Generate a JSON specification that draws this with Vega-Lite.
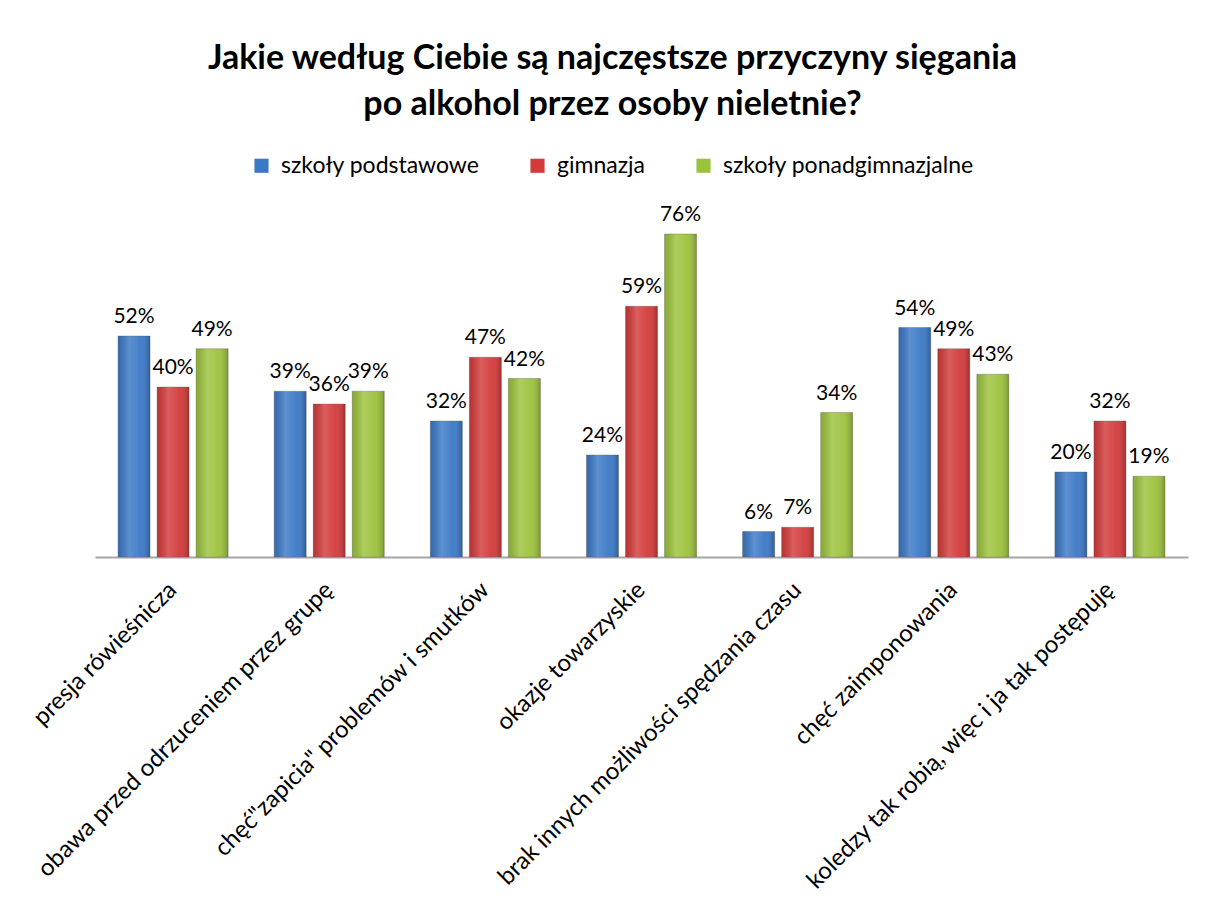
{
  "$schema": "https://vega.github.io/schema/vega-lite/v6.json",
  "width": 1093,
  "height": 340,
  "autosize": "none",
  "padding": {"left": 95, "top": 217, "right": 17, "bottom": 362},
  "background": "white",
  "config": {"view": {"stroke": null}},
  "title": {
    "text": ["Jakie według Ciebie są najczęstsze przyczyny sięgania", "po alkohol przez osoby nieletnie?"],
    "font": "Lato",
    "fontSize": 34,
    "fontWeight": "bold",
    "color": "#000000",
    "lineHeight": 46,
    "anchor": "middle",
    "dx": -29,
    "offset": 32
  },
  "data": {
    "values": [
      {"kategoria": "presja rówieśnicza", "szkola": "szkoły podstawowe", "wartosc": 0.52},
      {"kategoria": "presja rówieśnicza", "szkola": "gimnazja", "wartosc": 0.40},
      {"kategoria": "presja rówieśnicza", "szkola": "szkoły ponadgimnazjalne", "wartosc": 0.49},
      {"kategoria": "obawa przed odrzuceniem przez grupę", "szkola": "szkoły podstawowe", "wartosc": 0.39},
      {"kategoria": "obawa przed odrzuceniem przez grupę", "szkola": "gimnazja", "wartosc": 0.36},
      {"kategoria": "obawa przed odrzuceniem przez grupę", "szkola": "szkoły ponadgimnazjalne", "wartosc": 0.39},
      {"kategoria": "chęć\"zapicia\"  problemów i smutków", "szkola": "szkoły podstawowe", "wartosc": 0.32},
      {"kategoria": "chęć\"zapicia\"  problemów i smutków", "szkola": "gimnazja", "wartosc": 0.47},
      {"kategoria": "chęć\"zapicia\"  problemów i smutków", "szkola": "szkoły ponadgimnazjalne", "wartosc": 0.42},
      {"kategoria": "okazje towarzyskie", "szkola": "szkoły podstawowe", "wartosc": 0.24},
      {"kategoria": "okazje towarzyskie", "szkola": "gimnazja", "wartosc": 0.59},
      {"kategoria": "okazje towarzyskie", "szkola": "szkoły ponadgimnazjalne", "wartosc": 0.76},
      {"kategoria": "brak innych możliwości spędzania czasu", "szkola": "szkoły podstawowe", "wartosc": 0.06},
      {"kategoria": "brak innych możliwości spędzania czasu", "szkola": "gimnazja", "wartosc": 0.07},
      {"kategoria": "brak innych możliwości spędzania czasu", "szkola": "szkoły ponadgimnazjalne", "wartosc": 0.34},
      {"kategoria": "chęć zaimponowania", "szkola": "szkoły podstawowe", "wartosc": 0.54},
      {"kategoria": "chęć zaimponowania", "szkola": "gimnazja", "wartosc": 0.49},
      {"kategoria": "chęć zaimponowania", "szkola": "szkoły ponadgimnazjalne", "wartosc": 0.43},
      {"kategoria": "koledzy tak robią, więc i ja tak postępuję", "szkola": "szkoły podstawowe", "wartosc": 0.20},
      {"kategoria": "koledzy tak robią, więc i ja tak postępuję", "szkola": "gimnazja", "wartosc": 0.32},
      {"kategoria": "koledzy tak robią, więc i ja tak postępuję", "szkola": "szkoły ponadgimnazjalne", "wartosc": 0.19}
    ]
  },
  "encoding": {
    "x": {
      "field": "kategoria",
      "type": "nominal",
      "sort": null,
      "scale": {"paddingInner": 0, "paddingOuter": 0},
      "axis": {
        "title": null,
        "labelAngle": -45,
        "labelAlign": "right",
        "labelBaseline": "middle",
        "labelFont": "Lato",
        "labelFontSize": 24,
        "labelColor": "#000000",
        "labelLimit": 600,
        "labelPadding": 29,
        "ticks": false,
        "domainColor": "#A6A6A6",
        "domainWidth": 2
      }
    },
    "xOffset": {
      "field": "szkola",
      "type": "nominal",
      "sort": ["szkoły podstawowe", "gimnazja", "szkoły ponadgimnazjalne"],
      "scale": {"paddingInner": 0.18, "paddingOuter": 0.59}
    },
    "y": {
      "field": "wartosc",
      "type": "quantitative",
      "scale": {"domain": [0, 0.8]},
      "axis": null
    }
  },
  "layer": [
    {
      "mark": {"type": "bar", "stroke": "#5a5a5a", "strokeOpacity": 0.35, "strokeWidth": 1},
      "encoding": {
        "color": {
          "field": "szkola",
          "type": "nominal",
          "sort": ["szkoły podstawowe", "gimnazja", "szkoły ponadgimnazjalne"],
          "scale": {
            "domain": ["szkoły podstawowe", "gimnazja", "szkoły ponadgimnazjalne"],
            "range": ["#3B78C6", "#D33A3A", "#9CC23C"]
          },
          "legend": {
            "title": null,
            "orient": "none",
            "legendX": 155,
            "legendY": -63,
            "direction": "horizontal",
            "symbolType": "square",
            "symbolSize": 200,
            "symbolStrokeWidth": 0,
            "labelOffset": 8,
            "labelFont": "Lato",
            "labelFontSize": 23,
            "labelColor": "#000000",
            "columnPadding": 46,
            "labelLimit": 400
          }
        }
      }
    },
    {
      "mark": {
        "type": "bar",
        "color": {
          "gradient": "linear",
          "x1": 0, "y1": 0, "x2": 1, "y2": 0,
          "stops": [
            {"offset": 0, "color": "rgba(0,0,0,0.12)"},
            {"offset": 0.35, "color": "rgba(255,255,255,0.18)"},
            {"offset": 0.7, "color": "rgba(255,255,255,0.05)"},
            {"offset": 1, "color": "rgba(0,0,0,0.22)"}
          ]
        }
      }
    },
    {
      "mark": {"type": "text", "baseline": "bottom", "dy": -9, "font": "Lato", "fontSize": 21, "color": "#000000"},
      "encoding": {
        "text": {"field": "wartosc", "type": "quantitative", "format": ".0%"}
      }
    }
  ]
}
